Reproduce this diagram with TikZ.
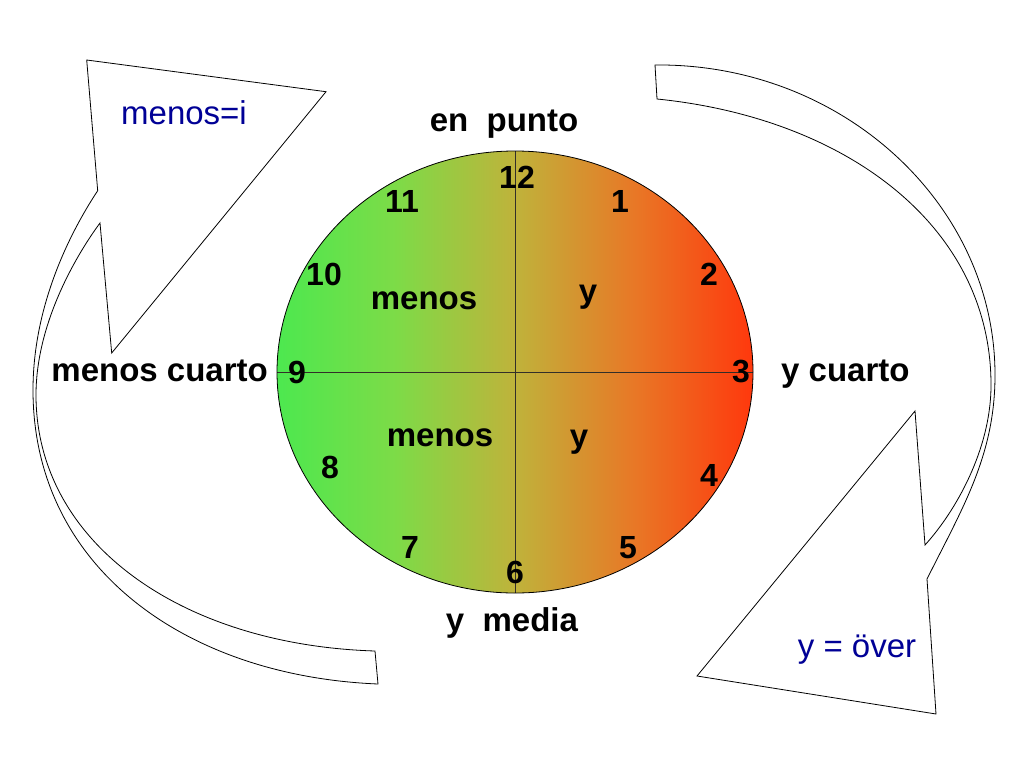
\documentclass[tikz,border=0pt]{standalone}
\usepackage{fontspec}
\setmainfont{Liberation Sans}
\definecolor{navy}{RGB}{0,0,150}
\pgfdeclarehorizontalshading{clockshade}{100bp}{rgb(0bp)=(0.30,0.91,0.31); rgb(25bp)=(0.30,0.91,0.31); rgb(37.5bp)=(0.49,0.86,0.28); rgb(50bp)=(0.75,0.70,0.23); rgb(62.5bp)=(0.91,0.47,0.15); rgb(75bp)=(1,0.22,0.05); rgb(100bp)=(1,0.22,0.05)}
\begin{document}
\begin{tikzpicture}[x=1pt,y=-1pt,
  lbl/.style={font=\bfseries\fontsize{33}{36}\selectfont, inner sep=0pt},
  num/.style={font=\bfseries\fontsize{32}{34}\selectfont, inner sep=0pt},
  note/.style={font=\fontsize{33}{36}\selectfont, text=navy, inner sep=0pt},
  band/.style={draw=black, line width=0.8pt, fill=white, line join=miter},
  cross/.style={draw=black!85!olive, line width=0.9pt}]
\useasboundingbox[fill=white] (0,0) rectangle (1024,768);

% left curved arrow
\draw[band] (375,651) .. controls (182,645) and (36,543) .. (36,395)
  .. controls (36,320) and (80,250) .. (100,223)
  -- (111.7,353) -- (326,91.7) -- (86.7,60) -- (97.7,190.7)
  .. controls (75,225) and (33,300) .. (33,390)
  .. controls (33,566) and (184,676) .. (378,684) -- cycle;

% right curved arrow
\draw[band] (655,65) .. controls (842,63) and (995,204) .. (995,375)
  .. controls (995,455) and (963,507) .. (927,579)
  -- (936,714) -- (697,676) -- (915,411) -- (925,545)
  .. controls (955,512) and (991,450) .. (991,385)
  .. controls (991,225) and (845,118) .. (657,99) -- cycle;

% clock face
\shade[shading=clockshade] (515,372) ellipse [x radius=238, y radius=221];
\coordinate (top) at (515,151);
\coordinate (bot) at (515,593);
\coordinate (lft) at (277,372);
\coordinate (rgt) at (753,372);
\draw[cross] (top) -- (bot);
\draw[cross] (lft) -- (rgt);
\draw[black, line width=0.8pt] (515,372) ellipse [x radius=238, y radius=221];

% hour numbers
\node[num] (n12) at (517,177) {12};
\node[num] (n1)  at (620,201) {1};
\node[num] (n2)  at (709,274) {2};
\node[num] (n3)  at (741,372) {3};
\node[num] (n4)  at (709,475) {4};
\node[num] (n5)  at (628,548) {5};
\node[num] (n6)  at (515,572) {6};
\node[num] (n7)  at (410,547) {7};
\node[num] (n8)  at (330,467) {8};
\node[num] (n9)  at (297,372) {9};
\node[num] (n10) at (324,274) {10};
\node[num] (n11) at (402,201) {11};

% words
\node[lbl, anchor=base] (enpunto) at (504,131.5) {en\ \ punto};
\node[lbl, anchor=base] (ymedia) at (512,631.5) {y\ \ media};
\node[lbl, anchor=base east] (menoscuarto) at (268,381) {menos cuarto};
\node[lbl, anchor=base west] (ycuarto) at (781,381) {y cuarto};
\node[lbl, anchor=base] (menosA) at (424,309) {menos};
\node[lbl, anchor=base] (yA) at (588,302) {y};
\node[lbl, anchor=base] (menosB) at (440,446.5) {menos};
\node[lbl, anchor=base] (yB) at (579,447) {y};

% notes
\node[note, anchor=base] (menosi) at (184,124) {menos=i};
\node[note, anchor=base] (yover) at (857,657) {y = över};
\end{tikzpicture}
\end{document}
